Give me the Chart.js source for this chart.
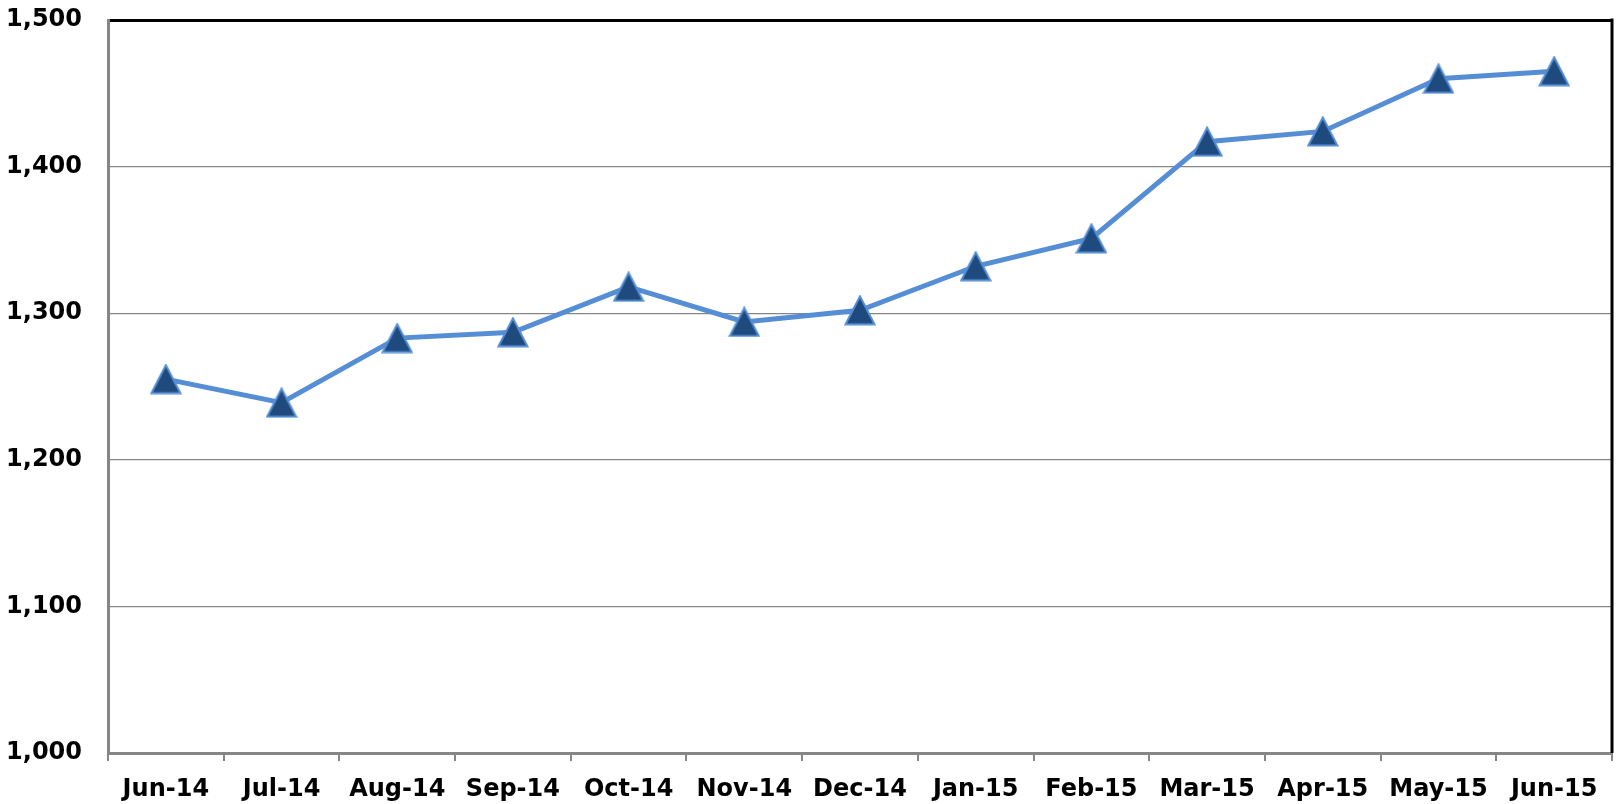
<!DOCTYPE html>
<html>
<head>
<meta charset="utf-8">
<script src="https://cdn.jsdelivr.net/npm/chart.js@4"></script>
<style>
  html, body { margin: 0; padding: 0; background: #fff; overflow: hidden; }
  #wrap { width: 1616px; height: 804px; }
  canvas { display: block; }
</style>
</head>
<body>
<div id="wrap"><canvas id="myChart" width="1616" height="804"></canvas></div>
<script>
// chart data
let months = ['Jun-14', 'Jul-14', 'Aug-14', 'Sep-14', 'Oct-14', 'Nov-14', 'Dec-14',
  'Jan-15', 'Feb-15', 'Mar-15', 'Apr-15', 'May-15', 'Jun-15'];
let counts = [1255, 1239, 1283, 1287, 1318, 1294, 1302, 1332, 1351, 1417, 1424, 1460, 1465];
let yMin = 1000;
let yMax = 1500;
let yStep = 100;

let lineBlue = '#558ed5';
let markerNavy = '#1f4a7e';
let axisGrey = '#868686';
let labelFont = { family: 'DejaVu Sans', size: 24, weight: 'bold' };

// triangle marker drawn once and reused as the point style
function makeTriangle() {
  let c = document.createElement('canvas');
  c.width = 32;
  c.height = 31;
  let g = c.getContext('2d');
  g.beginPath();
  g.moveTo(16, 1.5);
  g.lineTo(30.5, 29.5);
  g.lineTo(1.5, 29.5);
  g.closePath();
  g.fillStyle = markerNavy;
  g.fill();
  g.lineWidth = 2;
  g.strokeStyle = lineBlue;
  g.lineJoin = 'miter';
  g.stroke();
  return c;
}
let triangle = makeTriangle();

// black frame on the right side of the plot
let rightFrame = {
  id: 'rightFrame',
  beforeDatasetsDraw(chart) {
    let a = chart.chartArea;
    let ctx = chart.ctx;
    ctx.save();
    ctx.strokeStyle = '#000';
    ctx.lineWidth = 3;
    ctx.beginPath();
    ctx.moveTo(a.right, a.top - 1.5);
    ctx.lineTo(a.right, a.bottom);
    ctx.stroke();
    ctx.restore();
  }
};

let ctx = document.getElementById('myChart').getContext('2d');
let myChart = new Chart(ctx, {
  type: 'line',
  data: {
    labels: months,
    datasets: [{
      data: counts,
      borderColor: lineBlue,
      borderWidth: 5,
      tension: 0,
      pointStyle: triangle,
      pointRadius: 14,
      pointHoverRadius: 14,
      clip: false
    }]
  },
  options: {
    responsive: false,
    animation: false,
    devicePixelRatio: 1,
    layout: { autoPadding: false, padding: { top: 20, right: 4, left: 0, bottom: 0 } },
    plugins: {
      legend: { display: false },
      tooltip: { enabled: false }
    },
    scales: {
      x: {
        offset: true,
        grid: {
          offset: true,
          drawOnChartArea: false,
          drawTicks: true,
          tickLength: 8,
          color: axisGrey,
          lineWidth: 2
        },
        border: { color: axisGrey, width: 3 },
        ticks: { color: '#000', font: labelFont, padding: 14, maxRotation: 0, autoSkip: false },
        afterFit: s => {
          s.height = 51;
          s.paddingLeft = 0;
          s.paddingRight = 0;
        }
      },
      y: {
        min: yMin,
        max: yMax,
        grid: {
          drawTicks: false,
          color: c => c.tick && c.tick.value === yMax ? '#000' : axisGrey,
          lineWidth: c => c.tick && c.tick.value === yMax ? 3 : 1.2
        },
        border: { color: axisGrey, width: 3 },
        ticks: {
          stepSize: yStep,
          color: '#000',
          font: labelFont,
          padding: 26,
          callback: v => v.toLocaleString('en-US')
        },
        afterFit: s => {
          s.width = 108;
          s.paddingTop = 0;
          s.paddingBottom = 0;
        }
      }
    }
  },
  plugins: [rightFrame]
});
</script>
</body>
</html>
